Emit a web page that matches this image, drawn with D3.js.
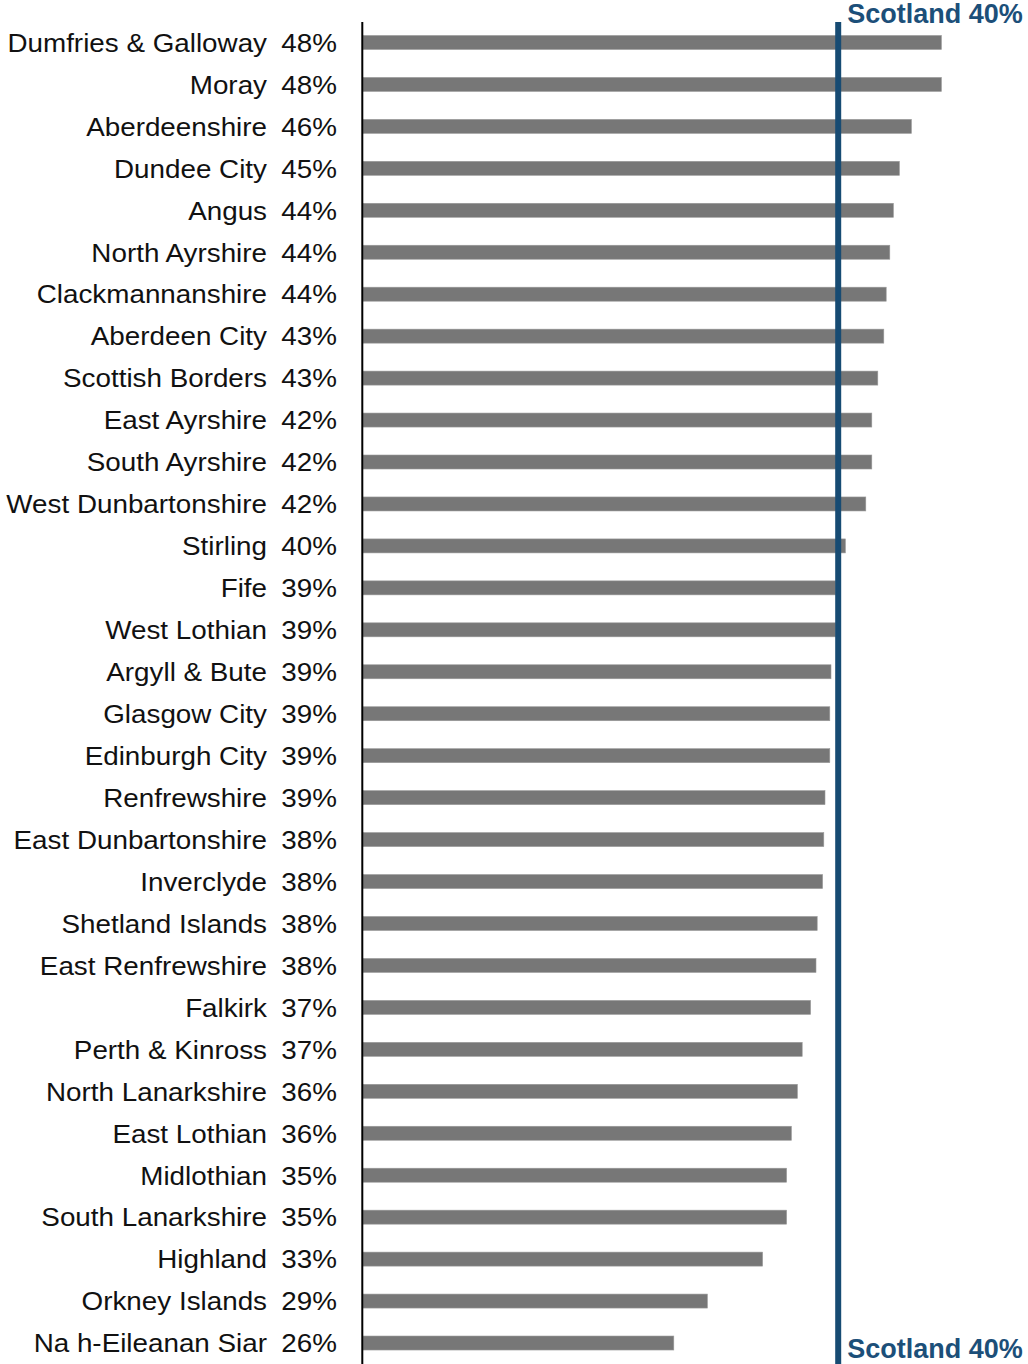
<!DOCTYPE html>
<html>
<head>
<meta charset="utf-8">
<script src="https://cdn.jsdelivr.net/npm/d3@7"></script>
<style>
  html, body { margin: 0; padding: 0; background: #fff; }
  svg { display: block; }
  text { font-family: "Liberation Sans", Arial, sans-serif; }
</style>
</head>
<body>
<svg id="chart" width="1028" height="1364"></svg>
<script>
const areas = ["Dumfries & Galloway","Moray","Aberdeenshire","Dundee City","Angus","North Ayrshire","Clackmannanshire","Aberdeen City","Scottish Borders","East Ayrshire","South Ayrshire","West Dunbartonshire","Stirling","Fife","West Lothian","Argyll & Bute","Glasgow City","Edinburgh City","Renfrewshire","East Dunbartonshire","Inverclyde","Shetland Islands","East Renfrewshire","Falkirk","Perth & Kinross","North Lanarkshire","East Lothian","Midlothian","South Lanarkshire","Highland","Orkney Islands","Na h-Eileanan Siar"];
const values = [48.2,48.2,45.7,44.7,44.2,43.9,43.6,43.4,42.9,42.4,42.4,41.9,40.2,39.4,39.4,39.0,38.9,38.9,38.5,38.4,38.3,37.85,37.75,37.3,36.6,36.2,35.7,35.3,35.3,33.3,28.7,25.9];
const valueLabels = ["48%","48%","46%","45%","44%","44%","44%","43%","43%","42%","42%","42%","40%","39%","39%","39%","39%","39%","39%","38%","38%","38%","38%","37%","37%","36%","36%","35%","35%","33%","29%","26%"];
const scotlandValue = 39.6;
const scotlandLabel = "Scotland 40%";

const svg = d3.select("#chart");
const x = d3.scaleLinear().domain([0, 50]).range([363, 963]);
const y = d3.scalePoint().domain(areas).range([21.5, 1364]).padding(0.5);
const barH = 14;
const stretch = 1.07;

// bars
svg.append("g").selectAll("rect").data(areas).join("rect")
  .attr("x", x(0))
  .attr("y", d => y(d) - barH / 2)
  .attr("width", (d, i) => x(values[i]) - x(0))
  .attr("height", barH)
  .attr("fill", "#777777")
  .attr("stroke", "#9a9a9a")
  .attr("stroke-width", 0.6);

// category labels
svg.append("g").selectAll("text").data(areas).join("text")
  .attr("transform", d => `translate(267,${y(d) + 9.3}) scale(${stretch},1)`)
  .attr("text-anchor", "end")
  .attr("font-size", 26)
  .attr("fill", "#111")
  .text(d => d);

// value labels
svg.append("g").selectAll("text").data(areas).join("text")
  .attr("transform", d => `translate(337,${y(d) + 9.3}) scale(${stretch},1)`)
  .attr("text-anchor", "end")
  .attr("font-size", 26)
  .attr("fill", "#111")
  .text((d, i) => valueLabels[i]);

// axis line
svg.append("line")
  .attr("x1", 362.3).attr("x2", 362.3)
  .attr("y1", 22).attr("y2", 1364)
  .attr("stroke", "#000").attr("stroke-width", 2);

// Scotland reference line
const sx = x(scotlandValue);
svg.append("line")
  .attr("x1", sx).attr("x2", sx)
  .attr("y1", 22).attr("y2", 1364)
  .attr("stroke", "#174b73").attr("stroke-width", 6);

svg.append("text")
  .attr("x", sx + 9).attr("y", 22.5)
  .attr("font-size", 27).attr("font-weight", "bold")
  .attr("fill", "#1c4f79")
  .text(scotlandLabel);
svg.append("text")
  .attr("x", sx + 9).attr("y", 1357.5)
  .attr("font-size", 27).attr("font-weight", "bold")
  .attr("fill", "#1c4f79")
  .text(scotlandLabel);
</script>
</body>
</html>
